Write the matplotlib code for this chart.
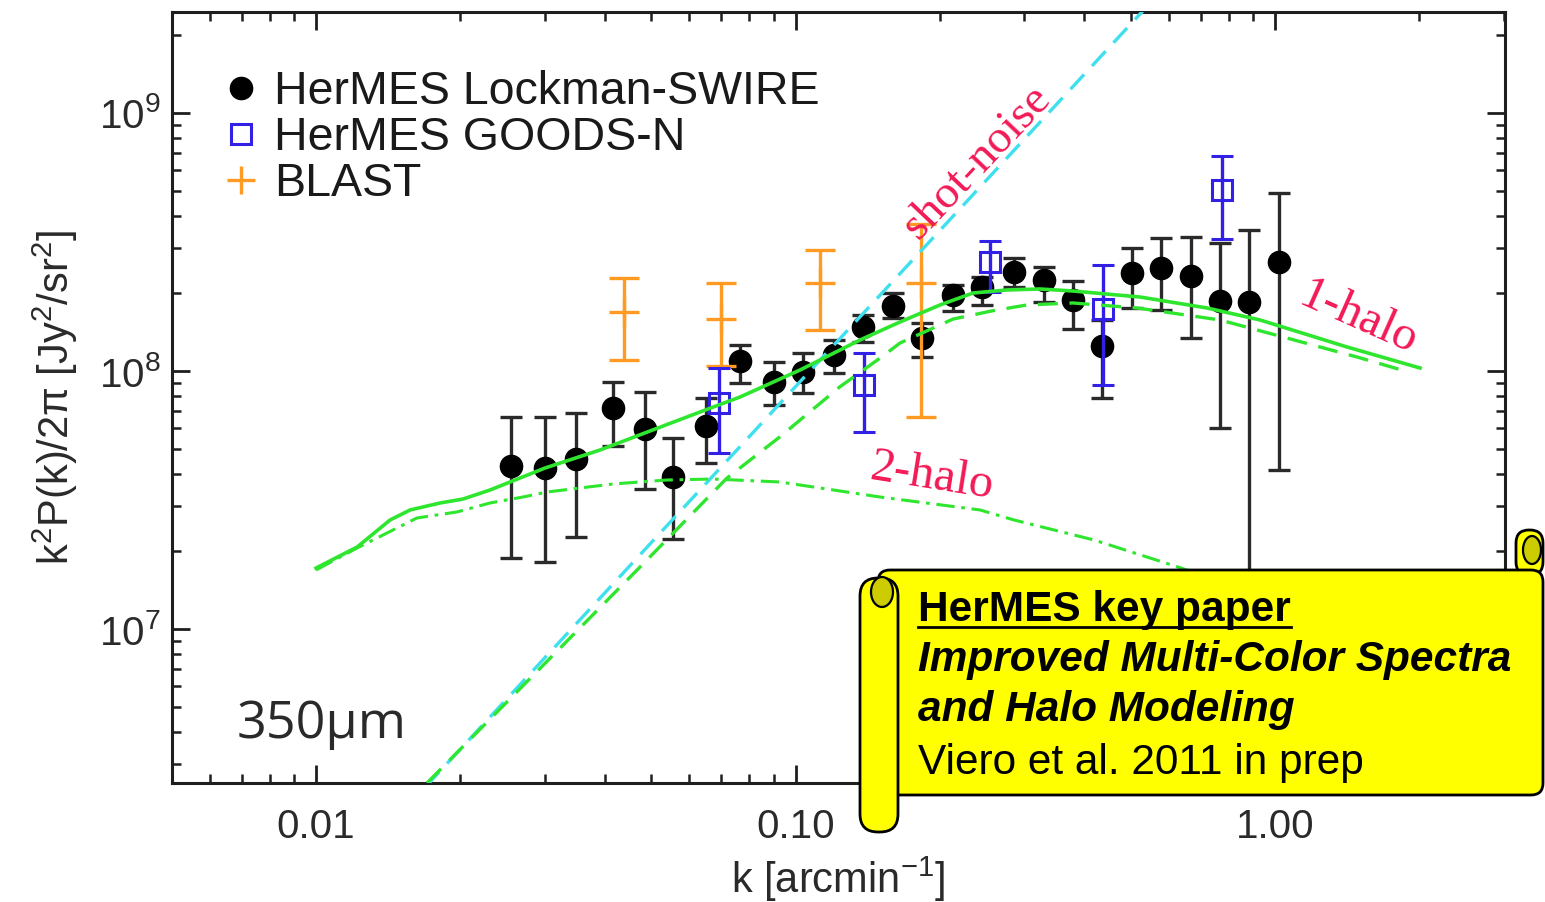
import matplotlib
matplotlib.use("Agg")
import matplotlib.pyplot as plt
from matplotlib.lines import Line2D
from matplotlib.patches import FancyBboxPatch, Ellipse
from matplotlib.ticker import FixedLocator, FixedFormatter, LogLocator, NullFormatter

plt.rcParams['font.family'] = ['Liberation Sans', 'DejaVu Sans']
plt.rcParams['mathtext.fontset'] = 'custom'
plt.rcParams['mathtext.rm'] = 'Liberation Sans'
plt.rcParams['mathtext.it'] = 'Liberation Sans:italic'
plt.rcParams['mathtext.bf'] = 'Liberation Sans:bold'

# ---- HerMES Lockman-SWIRE ----
lock_k = [0.0255, 0.0300, 0.0348, 0.0416, 0.0485, 0.0555, 0.0650, 0.0766, 0.0902,
          0.1038, 0.1205, 0.1385, 0.160, 0.1833, 0.2126, 0.2445, 0.2856, 0.3299,
          0.3786, 0.4363, 0.5026, 0.5775, 0.668, 0.769, 0.8825, 1.019]
lock_p = [4.28e7, 4.21e7, 4.55e7, 7.21e7, 5.96e7, 3.87e7, 6.14e7, 1.093e8, 9.09e7,
          9.88e7, 1.153e8, 1.477e8, 1.791e8, 1.346e8, 1.962e8, 2.122e8, 2.426e8, 2.253e8,
          1.884e8, 1.25e8, 2.391e8, 2.50e8, 2.328e8, 1.864e8, 1.851e8, 2.652e8]
lock_lo = [1.88e7, 1.82e7, 2.28e7, 5.12e7, 3.48e7, 2.23e7, 4.41e7, 9.01e7, 7.38e7,
           8.19e7, 9.80e7, 1.299e8, 1.601e8, 1.136e8, 1.708e8, 1.803e8, 2.122e8, 1.856e8,
           1.45e8, 7.84e7, 1.75e8, 1.724e8, 1.345e8, 5.99e7, 7.0e6, 4.13e7]
lock_hi = [6.65e7, 6.65e7, 6.88e7, 9.09e7, 8.31e7, 5.51e7, 7.86e7, 1.261e8, 1.081e8,
           1.171e8, 1.319e8, 1.648e8, 2.0e8, 1.531e8, 2.154e8, 2.32e8, 2.734e8, 2.537e8,
           2.239e8, 1.577e8, 2.989e8, 3.268e8, 3.30e8, 3.126e8, 3.52e8, 4.91e8]

# ---- HerMES GOODS-N ----
goods_k = [0.0694, 0.139, 0.2544, 0.4384, 0.774]
goods_p = [7.49e7, 8.83e7, 2.652e8, 1.734e8, 5.03e8]
goods_lo = [4.83e7, 5.82e7, 2.03e8, 8.83e7, 3.25e8]
goods_hi = [1.024e8, 1.171e8, 3.19e8, 2.575e8, 6.83e8]

# ---- BLAST ----
blast_k = [0.0439, 0.0699, 0.1125, 0.1825]
blast_p = [1.697e8, 1.588e8, 2.199e8, 2.187e8]
blast_lo = [1.103e8, 1.046e8, 1.442e8, 6.65e7]
blast_hi = [2.287e8, 2.193e8, 2.944e8, 3.713e8]

# ---- halo model curves ----
total_k = [0.0100, 0.01218, 0.01427, 0.01571, 0.01814, 0.02026, 0.02306, 0.03003,
           0.03911, 0.04973, 0.06322, 0.07661, 0.1022, 0.1363, 0.1652, 0.2002, 0.2346,
           0.2761, 0.3235, 0.3791, 0.5233, 0.7215, 0.9305, 1.413, 2.007]
total_p = [1.723e7, 2.078e7, 2.646e7, 2.893e7, 3.079e7, 3.19e7, 3.457e7, 4.207e7,
           4.94e7, 5.855e7, 6.936e7, 7.929e7, 1.009e8, 1.319e8, 1.549e8, 1.803e8, 2.006e8,
           2.061e8, 2.079e8, 2.042e8, 1.935e8, 1.755e8, 1.577e8, 1.239e8, 1.027e8]

one_halo_k = [0.01704, 0.04739, 0.07186, 0.09283, 0.1238, 0.1515, 0.1652, 0.2131,
              0.2582, 0.3040, 0.3791, 0.5158, 0.7679, 1.059, 1.483, 1.867]
one_halo_p = [2.53e6, 1.739e7, 3.838e7, 5.562e7, 8.69e7, 1.136e8, 1.284e8, 1.590e8,
              1.713e8, 1.803e8, 1.835e8, 1.755e8, 1.577e8, 1.342e8, 1.133e8, 1.0e8]

two_halo_k = [0.0100, 0.01218, 0.01624, 0.01968, 0.02306, 0.02702, 0.03032, 0.04163,
              0.05395, 0.06729, 0.09283, 0.1501, 0.2426, 0.2856, 0.4194, 0.6277, 0.9305]
two_halo_p = [1.693e7, 2.061e7, 2.694e7, 2.842e7, 3.079e7, 3.248e7, 3.396e7, 3.648e7,
              3.78e7, 3.814e7, 3.714e7, 3.248e7, 2.893e7, 2.646e7, 2.213e7, 1.739e7, 1.355e7]

shot_k = [0.01, 0.1, 1.0]
shot_p = [8.5e5, 8.7e7, 8.9e9]

GREEN = '#2fe62f'
CYAN = '#3fe0ee'
BLUE = '#3320e6'
ORANGE = '#ff9a22'
PINK = '#f21a56'
INK = '#1e1e1e'

W, H = 1545, 902
fig = plt.figure(figsize=(W / 100, H / 100), dpi=100)
ax = fig.add_axes([172 / W, 1 - 783 / H, (1505 - 172) / W, (783 - 12) / H])
ax.set_xscale('log')
ax.set_yscale('log')
ax.set_xlim(0.005007, 3.018)
ax.set_ylim(2.53e6, 2.463e9)


def asym(vals, lo, hi):
    return [[v - l for v, l in zip(vals, lo)], [h - v for v, h in zip(vals, hi)]]


ax.errorbar(lock_k, lock_p, yerr=asym(lock_p, lock_lo, lock_hi), fmt='o', color='black',
            ecolor='#2a2a2a', markersize=16, elinewidth=2.4, capsize=8, capthick=2.4, zorder=2)
ax.errorbar(blast_k, blast_p, yerr=asym(blast_p, blast_lo, blast_hi), fmt='+', color=ORANGE,
            markersize=22, mew=2.4, elinewidth=2.4, capsize=11, capthick=2.4, zorder=3)
ax.errorbar(goods_k, goods_p, yerr=asym(goods_p, goods_lo, goods_hi), fmt='s', color=BLUE,
            mfc='none', mec=BLUE, mew=2.2, markersize=14, elinewidth=2.4, capsize=8,
            capthick=2.4, zorder=4)

ax.plot(shot_k, shot_p, color=CYAN, lw=2.4, dashes=(6, 3.5), zorder=5)
ax.plot(one_halo_k, one_halo_p, color=GREEN, lw=2.4, dashes=(6, 3.5), zorder=5)
ax.plot(two_halo_k, two_halo_p, color=GREEN, lw=2.2, dashes=(6, 2.2, 1.2, 2.2), zorder=5)
ax.plot(total_k, total_p, color=GREEN, lw=2.6, zorder=6)

# axes styling
for s in ax.spines.values():
    s.set_linewidth(2.2)
    s.set_color(INK)
ax.xaxis.set_major_locator(FixedLocator([0.01, 0.1, 1.0]))
ax.xaxis.set_major_formatter(FixedFormatter(['0.01', '0.10', '1.00']))
ax.xaxis.set_minor_locator(LogLocator(base=10, subs=range(2, 10), numticks=20))
ax.xaxis.set_minor_formatter(NullFormatter())
ax.yaxis.set_major_locator(FixedLocator([1e7, 1e8, 1e9]))
ax.yaxis.set_major_formatter(FixedFormatter([r'$\mathregular{10^{7}}$',
                                             r'$\mathregular{10^{8}}$',
                                             r'$\mathregular{10^{9}}$']))
ax.yaxis.set_minor_locator(LogLocator(base=10, subs=range(2, 10), numticks=20))
ax.yaxis.set_minor_formatter(NullFormatter())
ax.tick_params(which='both', direction='in', top=True, right=True, color=INK,
               labelcolor='#2a2a2a', labelsize=29)
ax.tick_params(which='major', length=13, width=2.0)
ax.tick_params(which='minor', length=6.5, width=1.8)
ax.tick_params(axis='x', which='major', pad=18)
ax.tick_params(axis='y', which='major', pad=8)

ax.set_xlabel(r'k [arcmin$^{\mathregular{-1}}$]', fontsize=30, color='#2a2a2a', labelpad=6)
ax.set_ylabel(r'k$^{\mathregular{2}}$P(k)/2$\mathregular{\pi}$ [Jy$^{\mathregular{2}}$/sr$^{\mathregular{2}}$]',
              fontsize=30, color='#2a2a2a', labelpad=14)

handles = [
    Line2D([], [], marker='o', color='black', ls='none', markersize=16),
    Line2D([], [], marker='s', mfc='none', mec=BLUE, mew=2.2, ls='none', markersize=15),
    Line2D([], [], marker='+', color=ORANGE, mew=2.4, ls='none', markersize=20),
]
labels = ['HerMES Lockman-SWIRE', 'HerMES GOODS-N', 'BLAST']
leg = ax.legend(handles, labels, loc='upper left', bbox_to_anchor=(0.038, 0.9246),
                frameon=False, fontsize=33.5, handlelength=0.8, handletextpad=0.3,
                labelspacing=0.04, borderpad=0.0, borderaxespad=0.0)
for t in leg.get_texts():
    t.set_color('#1a1a1a')

# overlay in pixel coordinates for labels and the scroll banner
ov = fig.add_axes([0, 0, 1, 1], zorder=10)
ov.set_xlim(0, W)
ov.set_ylim(H, 0)
ov.axis('off')
ov.patch.set_alpha(0)

ov.text(977, 163, 'shot-noise', rotation=46.5, color=PINK, fontsize=34,
        family='Liberation Serif', ha='center', va='center')
ov.text(1358, 318, '1-halo', rotation=-24, color=PINK, fontsize=35,
        family='Liberation Serif', ha='center', va='center')
ov.text(932, 477, '2-halo', rotation=-9, color=PINK, fontsize=35,
        family='Liberation Serif', ha='center', va='center')
ov.text(237, 738, '350\u00b5m', color='#2a2a2a', fontsize=37.5, family='Open Sans',
        ha='left', va='baseline')

YEL = '#ffff00'
DARK = '#cccc00'
body = FancyBboxPatch((878, 570), 1543 - 878, 795 - 570,
                      boxstyle='round,pad=0,rounding_size=12',
                      fc=YEL, ec='black', lw=2.0, zorder=1)
ov.add_patch(body)
roll_r = FancyBboxPatch((1516, 530), 1543 - 1516, 575 - 530,
                        boxstyle='round,pad=0,rounding_size=13',
                        fc=YEL, ec='black', lw=2.0, zorder=0.9)
ov.add_patch(roll_r)
ov.add_patch(Ellipse((1532, 550), 18, 28, fc=DARK, ec='black', lw=1.6, zorder=1.2))
tube = FancyBboxPatch((860, 578), 898 - 860, 832 - 578,
                      boxstyle='round,pad=0,rounding_size=18',
                      fc=YEL, ec='black', lw=2.0, zorder=2)
ov.add_patch(tube)
ov.add_patch(Ellipse((882, 592), 22, 30, fc=DARK, ec='black', lw=1.6, zorder=2.1))

tx = 918
fs_box = 30.5
title = ov.text(tx, 621, 'HerMES key paper', fontsize=fs_box, weight='bold', color='black',
                ha='left', va='baseline', zorder=3)
ov.text(tx, 671, 'Improved Multi-Color Spectra', fontsize=fs_box, weight='bold',
        style='italic', color='black', ha='left', va='baseline', zorder=3)
ov.text(tx, 721, 'and Halo Modeling', fontsize=fs_box, weight='bold', style='italic',
        color='black', ha='left', va='baseline', zorder=3)
ov.text(tx, 774, 'Viero et al. 2011 in prep', fontsize=fs_box, color='black',
        ha='left', va='baseline', zorder=3)

# underline the paper heading across its rendered width
fig.canvas.draw()
bb = title.get_window_extent()
ov.plot([bb.x0, bb.x1], [627, 627], color='black', lw=2.0, zorder=3)

fig.savefig('out.png', dpi=100)
